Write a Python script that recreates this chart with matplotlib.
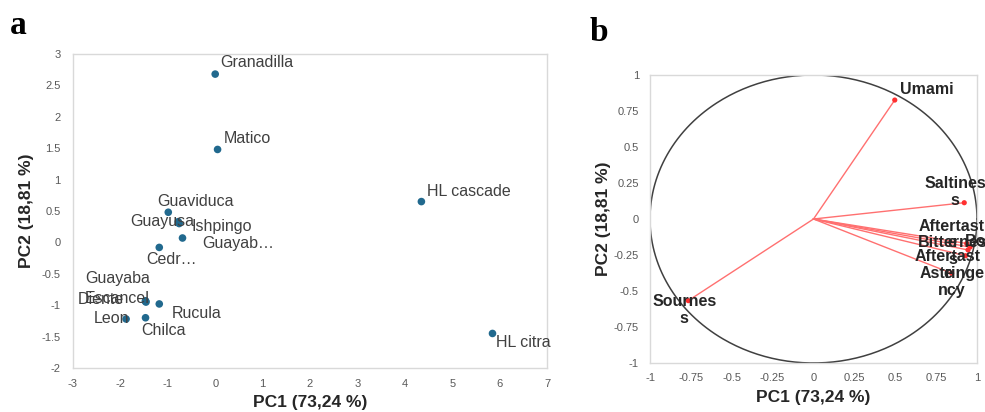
import matplotlib
matplotlib.use("Agg")
import matplotlib.pyplot as plt
import numpy as np

plt.rcParams['font.family'] = ['Liberation Sans', 'DejaVu Sans']

# ---- Panel a: scores ----
samples = ["Granadilla", "Matico", "HL cascade", "HL citra", "Guaviduca", "Guayusa",
           "Ishpingo", "Guayab…", "Cedr…", "Guayaba", "Escancel", "Diente",
           "Rucula", "Leon", "Chilca"]
pc1_scores = [0.00, 0.05, 4.35, 5.85, -0.99, -0.78, -0.76, -0.69, -1.18, -1.47, -1.47, -1.46,
              -1.18, -1.88, -1.47]
pc2_scores = [2.68, 1.48, 0.65, -1.45, 0.48, 0.33, 0.30, 0.07, -0.08, -0.93, -0.94, -0.95,
              -0.98, -1.22, -1.20]
# label offsets in pixels and alignment
score_label_pos = [(5, 12, 'left'), (6, 11, 'left'), (6, 10, 'left'), (4, -9, 'left'),
                   (27, 11, 'center'), (16, 0, 'right'), (12, -3, 'left'), (20, -5, 'left'),
                   (12, -12, 'center'), (-28, 22, 'center'), (4, 3, 'right'), (-68, 3, 'left'),
                   (12, -10, 'left'), (3, 1, 'right'), (-4, -13, 'left')]

a_xticks = [-3, -2, -1, 0, 1, 2, 3, 4, 5, 6, 7]
a_yticks = [-2, -1.5, -1, -0.5, 0, 0.5, 1, 1.5, 2, 2.5, 3]

# ---- Panel b: loadings ----
variables = ["Umami", "Saltines\ns", "Sournes\ns", "Aftertast\ne", "Body",
             "Bitternes\ns", "Aftertast\ne", "Astringe\nncy"]
pc1_load = [0.497, 0.922, -0.766, 0.937, 0.958, 0.945, 0.93, 0.845]
pc2_load = [0.826, 0.113, -0.567, -0.170, -0.195, -0.215, -0.255, -0.377]
load_label_pos = [(32, 11), (-9, 10.5), (-4, -9.5), (-15, 9), (15, 6),
                  (-15, -1), (-18, -9), (0, -9)]

b_ticks = [-1, -0.75, -0.5, -0.25, 0, 0.25, 0.5, 0.75, 1]

def fmt(v):
    return '%g' % v

W, H = 985, 412
fig = plt.figure(figsize=(W / 100, H / 100), dpi=100)

tick_color = '#595959'
spine_color = '#d9d9d9'

# Panel a
axa = fig.add_axes([73 / W, 1 - 368 / H, 474 / W, 314 / H])
axa.scatter(pc1_scores, pc2_scores, s=30, color='#21698e', zorder=3, edgecolors='none')
for name, x, y, (dx, dy, ha) in zip(samples, pc1_scores, pc2_scores, score_label_pos):
    axa.annotate(name, (x, y), xytext=(dx, dy), textcoords='offset pixels',
                 ha=ha, va='center', fontsize=11.5, color='#404040', zorder=4)
axa.set_xlim(-3, 7)
axa.set_ylim(-2, 3)
axa.set_xticks(a_xticks)
axa.set_yticks(a_yticks)
axa.set_xticklabels([fmt(v) for v in a_xticks])
axa.set_yticklabels([fmt(v) for v in a_yticks])
axa.tick_params(length=0, labelsize=8, colors=tick_color)
axa.tick_params(axis='x', pad=8)
axa.tick_params(axis='y', pad=9)
for sp in axa.spines.values():
    sp.set_color(spine_color)
    sp.set_linewidth(1)
axa.set_xlabel("PC1 (73,24 %)", fontsize=12.5, fontweight='bold', color='#262626', labelpad=4)
axa.set_ylabel("PC2 (18,81 %)", fontsize=12.5, fontweight='bold', color='#262626', labelpad=5)

# Panel b
axb = fig.add_axes([650 / W, 1 - 363 / H, 327 / W, 288 / H])
t = np.linspace(0, 2 * np.pi, 400)
axb.plot(np.cos(t), np.sin(t), color='#404040', lw=1.1, zorder=2)
for x, y in zip(pc1_load, pc2_load):
    axb.plot([0, x], [0, y], color='#ff7070', lw=1.0, zorder=3)
axb.scatter(pc1_load, pc2_load, s=14, color='#ff3030', zorder=4, edgecolors='none')
for name, x, y, (dx, dy) in zip(variables, pc1_load, pc2_load, load_label_pos):
    axb.annotate(name, (x, y), xytext=(dx, dy), textcoords='offset pixels',
                 ha='center', va='center', fontsize=11.5, fontweight='bold',
                 color='#262626', zorder=5, linespacing=1.15, annotation_clip=False)
axb.set_xlim(-1, 1)
axb.set_ylim(-1, 1)
axb.set_xticks(b_ticks)
axb.set_yticks(b_ticks)
axb.set_xticklabels([fmt(v) for v in b_ticks])
axb.set_yticklabels([fmt(v) for v in b_ticks])
axb.tick_params(length=0, labelsize=8, colors=tick_color)
axb.tick_params(axis='x', pad=7)
axb.tick_params(axis='y', pad=8)
for sp in axb.spines.values():
    sp.set_color(spine_color)
    sp.set_linewidth(1)
axb.set_xlabel("PC1 (73,24 %)", fontsize=12.5, fontweight='bold', color='#262626', labelpad=5)
axb.set_ylabel("PC2 (18,81 %)", fontsize=12.5, fontweight='bold', color='#262626', labelpad=2)

fig.text(10 / W, 1 - 34 / H, "a", fontsize=24, fontweight='bold',
         family=['Liberation Serif', 'DejaVu Serif'], color='black')
fig.text(590 / W, 1 - 41 / H, "b", fontsize=24, fontweight='bold',
         family=['Liberation Serif', 'DejaVu Serif'], color='black')

fig.savefig("out.png", dpi=100)
